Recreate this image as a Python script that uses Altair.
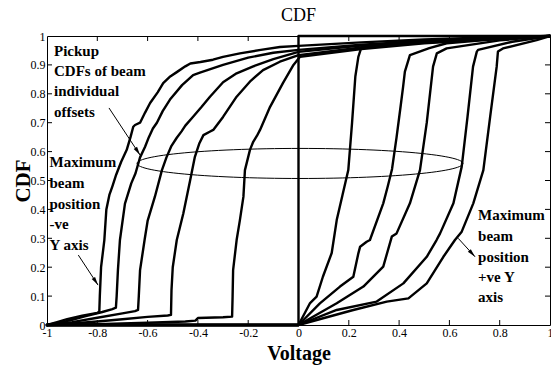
import math
import altair as alt
import numpy as np
import pandas as pd

W, H = 503, 289

# ---------------- data ----------------
X_TICKS = [-1, -0.8, -0.6, -0.4, -0.2, 0, 0.2, 0.4, 0.6, 0.8, 1]
Y_TICKS = [0, 0.1, 0.2, 0.3, 0.4, 0.5, 0.6, 0.7, 0.8, 0.9, 1]
X_INNER = [-0.8, -0.6, -0.4, -0.2, 0.2, 0.4, 0.6, 0.8]
Y_INNER = [0.1, 0.2, 0.3, 0.4, 0.5, 0.6, 0.7, 0.8, 0.9]

# centred pickup (step at 0)
C0_x = [-1, 0, 0, 1]
C0_y = [0, 0, 1, 1]

# negative-offset CDFs
L1_x = [-1, -0.96, -0.92, -0.86, -0.80, -0.792, -0.790, -0.785, -0.772, -0.764, -0.752, -0.740,
        -0.725, -0.705, -0.683, -0.668, -0.657, -0.650, -0.630, -0.610, -0.590, -0.560, -0.538,
        -0.510, -0.484, -0.450, -0.430, -0.390, -0.340, -0.300, -0.233, -0.150, -0.074, 0,
        0.25, 0.5, 0.75, 1]
L1_y = [0, 0.010, 0.020, 0.032, 0.042, 0.046, 0.10, 0.20, 0.294, 0.40, 0.45, 0.48,
        0.52, 0.565, 0.606, 0.65, 0.686, 0.692, 0.70, 0.735, 0.768, 0.805, 0.837,
        0.86, 0.875, 0.895, 0.905, 0.91, 0.918, 0.928, 0.94, 0.952, 0.962, 0.966,
        0.978, 0.988, 0.995, 1]

L2_x = [-1, -0.95, -0.90, -0.85, -0.78, -0.74, -0.726, -0.723, -0.718, -0.710, -0.690, -0.665,
        -0.648, -0.630, -0.610, -0.595, -0.579, -0.563, -0.540, -0.511, -0.463, -0.419, -0.392,
        -0.30, -0.20, -0.10, 0, 0.25, 0.5, 0.75, 1]
L2_y = [0, 0.008, 0.018, 0.030, 0.045, 0.055, 0.060, 0.10, 0.19, 0.294, 0.42, 0.49,
        0.525, 0.58, 0.617, 0.65, 0.68, 0.70, 0.74, 0.78, 0.83, 0.865, 0.873,
        0.90, 0.925, 0.942, 0.952, 0.97, 0.983, 0.993, 1]

L3_x = [-1, -0.90, -0.80, -0.70, -0.65, -0.638, -0.635, -0.630, -0.612, -0.600, -0.571, -0.543,
        -0.525, -0.505, -0.484, -0.465, -0.450, -0.420, -0.385, -0.352, -0.300, -0.246, -0.180,
        -0.10, 0, 0.25, 0.5, 0.75, 1]
L3_y = [0, 0.010, 0.025, 0.040, 0.048, 0.052, 0.10, 0.19, 0.294, 0.36, 0.444, 0.536,
        0.58, 0.62, 0.648, 0.67, 0.69, 0.72, 0.755, 0.79, 0.84, 0.871, 0.895,
        0.92, 0.945, 0.967, 0.98, 0.99, 1]

L4_x = [-1, -0.90, -0.80, -0.70, -0.60, -0.52, -0.507, -0.505, -0.500, -0.484, -0.458, -0.431,
        -0.412, -0.394, -0.378, -0.355, -0.339, -0.300, -0.246, -0.190, -0.141, -0.074, 0,
        0.25, 0.5, 0.75, 1]
L4_y = [0, 0.005, 0.012, 0.020, 0.028, 0.033, 0.035, 0.12, 0.20, 0.294, 0.386, 0.50,
        0.582, 0.629, 0.657, 0.668, 0.675, 0.72, 0.79, 0.845, 0.882, 0.911, 0.934,
        0.96, 0.977, 0.989, 1]

L5_x = [-1, -0.80, -0.60, -0.45, -0.41, -0.40, -0.30, -0.264, -0.262, -0.260, -0.246, -0.233,
        -0.219, -0.213, -0.193, -0.180, -0.165, -0.153, -0.113, -0.062, -0.020, 0.006,
        0.25, 0.5, 0.75, 1]
L5_y = [0, 0.003, 0.008, 0.012, 0.015, 0.024, 0.027, 0.029, 0.10, 0.19, 0.294, 0.363,
        0.444, 0.536, 0.606, 0.634, 0.655, 0.675, 0.755, 0.837, 0.90, 0.928,
        0.955, 0.975, 0.988, 1]

# positive-offset CDFs
R1_x = [-1, 0, 0.046, 0.072, 0.097, 0.132, 0.152, 0.175, 0.198, 0.213, 0.226, 0.238, 0.251,
        0.40, 0.60, 0.80, 1]
R1_y = [0, 0, 0.076, 0.098, 0.167, 0.249, 0.363, 0.45, 0.536, 0.70, 0.86, 0.928, 0.963,
        0.978, 0.988, 0.995, 1]

R2_x = [-1, 0, 0.085, 0.165, 0.218, 0.238, 0.245, 0.271, 0.284, 0.337, 0.355, 0.372, 0.390,
        0.405, 0.416, 0.423, 0.443, 0.52, 0.589, 0.80, 1]
R2_y = [0, 0, 0.075, 0.133, 0.167, 0.248, 0.271, 0.288, 0.294, 0.421, 0.48, 0.54, 0.65,
        0.75, 0.825, 0.877, 0.934, 0.958, 0.975, 0.99, 1]

R3_x = [-1, 0, 0.152, 0.258, 0.337, 0.371, 0.390, 0.443, 0.483, 0.510, 0.535, 0.550, 0.589,
        0.80, 1]
R3_y = [0, 0, 0.075, 0.133, 0.202, 0.306, 0.317, 0.421, 0.536, 0.70, 0.894, 0.94, 0.957,
        0.985, 1]

R4_x = [-1, 0, 0.152, 0.311, 0.417, 0.510, 0.549, 0.563, 0.616, 0.649, 0.672, 0.694, 0.709,
        0.714, 0.85, 1]
R4_y = [0, 0, 0.052, 0.081, 0.144, 0.236, 0.294, 0.317, 0.421, 0.548, 0.72, 0.894, 0.946,
        0.952, 0.98, 1]

R5_x = [-1, 0, 0.218, 0.351, 0.437, 0.510, 0.576, 0.622, 0.649, 0.695, 0.735, 0.762, 0.788,
        0.793, 0.813, 0.947, 1]
R5_y = [0, 0, 0.052, 0.081, 0.092, 0.144, 0.236, 0.294, 0.323, 0.421, 0.536, 0.72, 0.894,
        0.946, 0.957, 0.986, 1]

# ellipse marking the spread of the CDFs (centre / semi-axes)
ELL_CX, ELL_CY, ELL_RX, ELL_RY = 0.006, 0.559, 0.648, 0.052

# annotation texts
NOTE_TEXT = ["Pickup", "CDFs of beam", "individual", "offsets",
             "Maximum", "beam", "position", "-ve", "Y axis",
             "Maximum", "beam", "position", "+ve Y", "axis"]
NOTE_X = [-0.972] * 4 + [-0.99] * 5 + [0.714] * 5
NOTE_Y = [0.9325, 0.8616, 0.7907, 0.7197,
          0.5467, 0.474, 0.403, 0.332, 0.2595,
          0.3633, 0.2907, 0.2197, 0.1488, 0.0779]

# arrows (start -> head)
ARR_X0 = [-0.7535, -0.8755, 0.635]
ARR_Y0 = [0.751, 0.242, 0.300]
ARR_X1 = [-0.630, -0.797, 0.702]
ARR_Y1 = [0.588, 0.138, 0.236]

# ---------------- build tables ----------------
series = {"C0": (C0_x, C0_y), "L1": (L1_x, L1_y), "L2": (L2_x, L2_y), "L3": (L3_x, L3_y),
          "L4": (L4_x, L4_y), "L5": (L5_x, L5_y), "R1": (R1_x, R1_y), "R2": (R2_x, R2_y),
          "R3": (R3_x, R3_y), "R4": (R4_x, R4_y), "R5": (R5_x, R5_y)}
rows = []
for name, (xs, ys) in series.items():
    for i, (xv, yv) in enumerate(zip(xs, ys)):
        rows.append({"series": name, "x": xv, "y": yv, "i": i})
curves = pd.DataFrame(rows)

t = np.linspace(0, 2 * np.pi, 121)
ell = pd.DataFrame({"x": ELL_CX + ELL_RX * np.cos(t), "y": ELL_CY + ELL_RY * np.sin(t),
                    "i": np.arange(len(t))})

notes = pd.DataFrame({"text": NOTE_TEXT, "x": NOTE_X, "y": NOTE_Y})

ang = []
for x0, y0, x1, y1 in zip(ARR_X0, ARR_Y0, ARR_X1, ARR_Y1):
    dx = (x1 - x0) * W / 2
    dy = -(y1 - y0) * H
    ang.append(math.degrees(math.atan2(dx, -dy)) % 360)
arrows = pd.DataFrame({"x": ARR_X0, "y": ARR_Y0, "x2": ARR_X1, "y2": ARR_Y1, "angle": ang})

xt_in = pd.DataFrame({"x": X_INNER})
yt_in = pd.DataFrame({"y": Y_INNER})

FONT = "Liberation Serif"
xscale = alt.Scale(domain=[-1, 1], nice=False, zero=False)
yscale = alt.Scale(domain=[0, 1], nice=False, zero=False)

x_axis = alt.Axis(values=X_TICKS, labelExpr="'' + datum.value", grid=False, ticks=False,
                  tickSize=0, domain=False, labelPadding=2, labelFont=FONT, labelFontSize=12,
                  labelColor="black", title="Voltage", titleFont=FONT, titleFontSize=20,
                  titleFontWeight="bold", titleColor="black", titleX=W / 2, titleY=34,
                  titleBaseline="alphabetic", labelFlush=False, labelOverlap=False)
y_axis = alt.Axis(values=Y_TICKS, labelExpr="'' + datum.value", grid=False, ticks=False,
                  tickSize=0, domain=False, labelPadding=2, labelFont=FONT, labelFontSize=12,
                  labelColor="black", title="CDF", titleFont=FONT, titleFontSize=21,
                  titleFontWeight="bold", titleColor="black", titleX=-18, titleY=H / 2,
                  titleBaseline="alphabetic", titleAngle=270, labelFlush=False,
                  labelOverlap=False)


def X(field):
    return alt.X(field, type="quantitative", scale=xscale, axis=None)


def Y(field):
    return alt.Y(field, type="quantitative", scale=yscale, axis=None)


lines = alt.Chart(curves).mark_line(color="black", strokeWidth=2.4, strokeJoin="round",
                                    strokeCap="round").encode(
    x=alt.X("x:Q", scale=xscale, axis=x_axis),
    y=alt.Y("y:Q", scale=yscale, axis=y_axis),
    detail="series:N",
    order="i:Q",
)

ellipse = alt.Chart(ell).mark_line(color="black", strokeWidth=1).encode(
    x=X("x"), y=Y("y"), order="i:Q")

tick_style = dict(color="black", strokeWidth=1)
t_bottom = alt.Chart(xt_in).mark_rule(**tick_style).encode(
    x=X("x"), y=alt.value(H), y2=alt.value(H - 5))
t_top = alt.Chart(xt_in).mark_rule(**tick_style).encode(
    x=X("x"), y=alt.value(0), y2=alt.value(5))
t_left = alt.Chart(yt_in).mark_rule(**tick_style).encode(
    y=Y("y"), x=alt.value(0), x2=alt.value(5))
t_right = alt.Chart(yt_in).mark_rule(**tick_style).encode(
    y=Y("y"), x=alt.value(W), x2=alt.value(W - 5))

texts = alt.Chart(notes).mark_text(font=FONT, fontSize=15, fontWeight="bold", align="left",
                                   baseline="alphabetic", color="black").encode(
    x=X("x"), y=Y("y"), text="text:N")

arrow_lines = alt.Chart(arrows).mark_rule(color="black", strokeWidth=1).encode(
    x=X("x"), y=Y("y"), x2="x2:Q", y2="y2:Q")
arrow_heads = alt.Chart(arrows).mark_point(shape="M0,0L0.4,1.7L-0.4,1.7Z", filled=True,
                                           color="black", size=100, opacity=1,
                                           strokeWidth=0).encode(
    x=X("x2"), y=Y("y2"), angle=alt.Angle("angle:Q", scale=None))

chart = alt.layer(lines, ellipse, t_bottom, t_top, t_left, t_right, texts, arrow_lines,
                  arrow_heads).resolve_axis(x="independent", y="independent").properties(
    width=W, height=H,
    title=alt.TitleParams("CDF", font=FONT, fontSize=18, fontWeight="normal", color="black",
                          anchor="middle", offset=13, baseline="alphabetic", dy=22),
    autosize=alt.AutoSizeParams(type="none"),
    padding={"left": 47, "top": 36, "right": 1, "bottom": 40},
    background="white",
).configure_view(stroke="black", strokeWidth=1)

chart.save("out.html", embed_options={"renderer": "svg", "actions": False})
